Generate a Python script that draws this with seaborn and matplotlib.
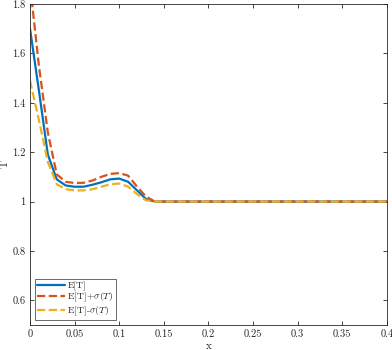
"""Mean temperature with +/- one standard deviation band"""

import numpy as np
import pandas as pd
import seaborn as sns
import matplotlib.pyplot as plt

x = [0.00, 0.01, 0.02, 0.03, 0.04, 0.05, 0.06, 0.07, 0.08, 0.09, 0.10,
     0.11, 0.12, 0.13, 0.14, 0.15, 0.20, 0.25, 0.30, 0.35, 0.40]

mean_t = [1.70, 1.45, 1.19, 1.09, 1.065, 1.06, 1.06, 1.068, 1.078, 1.09, 1.093,
          1.08, 1.045, 1.01, 1.0, 1.0, 1.0, 1.0, 1.0, 1.0, 1.0]

upper_t = [1.88, 1.55, 1.28, 1.11, 1.08, 1.075, 1.076, 1.085, 1.10, 1.112, 1.115,
           1.105, 1.06, 1.02, 1.0, 1.0, 1.0, 1.0, 1.0, 1.0, 1.0]

lower_t = [1.49, 1.33, 1.16, 1.07, 1.05, 1.045, 1.045, 1.05, 1.06, 1.07, 1.073,
           1.06, 1.03, 1.005, 1.0, 1.0, 1.0, 1.0, 1.0, 1.0, 1.0]

sns.set_style("ticks")
plt.rcParams["font.family"] = "serif"
plt.rcParams["font.serif"] = ["cmr10", "DejaVu Serif"]
plt.rcParams["mathtext.fontset"] = "cm"
plt.rcParams["axes.formatter.use_mathtext"] = True

df = pd.DataFrame({"x": x, "mean": mean_t, "upper": upper_t, "lower": lower_t})

fig = plt.figure(figsize=(3.92, 3.5), dpi=100)
ax = fig.add_axes([0.0765, 0.0714, 0.9105, 0.9172])

sns.lineplot(data=df, x="x", y="mean", color="#0072BD", lw=1.6,
             label="E[T]", ax=ax)
sns.lineplot(data=df, x="x", y="upper", color="#D95319", lw=1.6, linestyle="--",
             label=r"E[T]+$\sigma(T)$", ax=ax)
sns.lineplot(data=df, x="x", y="lower", color="#EDB120", lw=1.6, linestyle="--",
             label=r"E[T]-$\sigma(T)$", ax=ax)

ax.set_xlim(0, 0.4)
ax.set_ylim(0.5, 1.8)
ax.set_xticks(np.arange(0, 0.41, 0.05))
ax.set_xticklabels(["0", "0.05", "0.1", "0.15", "0.2", "0.25", "0.3", "0.35", "0.4"])
ax.set_yticks([0.6, 0.8, 1.0, 1.2, 1.4, 1.6, 1.8])
ax.set_yticklabels(["0.6", "0.8", "1", "1.2", "1.4", "1.6", "1.8"])
ax.tick_params(direction="in", top=True, right=True, labelsize=7.5,
               length=3, width=0.6, colors="#262626", pad=3)
for spine in ax.spines.values():
    spine.set_linewidth(0.6)
    spine.set_color("#262626")
ax.set_xlabel("x", fontsize=8, labelpad=2)
ax.set_ylabel("T", fontsize=8)
ax.yaxis.set_label_coords(-0.056, 0.5)

leg = ax.legend(loc="lower left", fontsize=7, frameon=True, fancybox=False,
                edgecolor="#262626", handlelength=2.8, borderpad=0.2,
                labelspacing=0.02, handletextpad=0.3, borderaxespad=0.55)
leg.get_frame().set_linewidth(0.6)

fig.savefig("out.png", dpi=100)
